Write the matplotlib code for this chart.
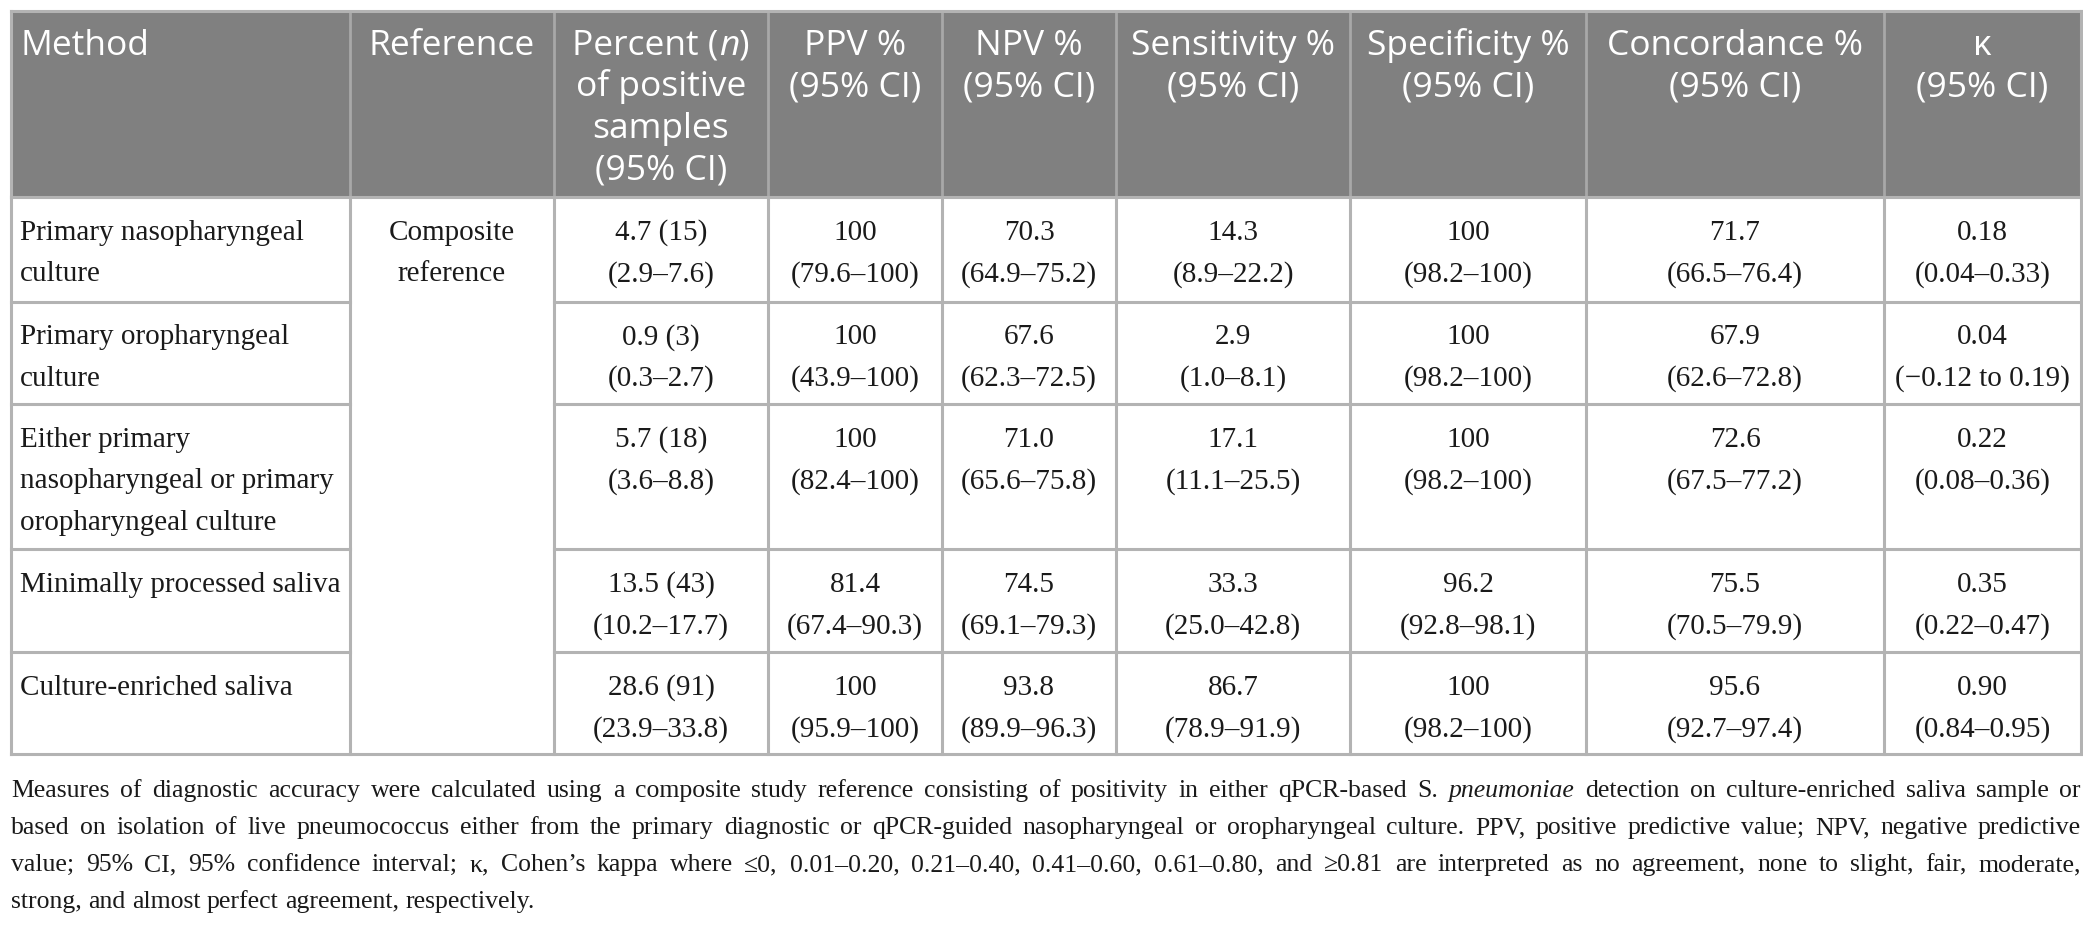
import matplotlib
matplotlib.use("Agg")
import matplotlib.pyplot as plt
from matplotlib.patches import Rectangle

# ---- table content ----
methods = [
    "Primary nasopharyngeal\nculture",
    "Primary oropharyngeal\nculture",
    "Either primary\nnasopharyngeal or primary\noropharyngeal culture",
    "Minimally processed saliva",
    "Culture-enriched saliva",
]
reference = "Composite\nreference"

pos_pct = [4.7, 0.9, 5.7, 13.5, 28.6]
pos_n = [15, 3, 18, 43, 91]
pos_ci = [(2.9, 7.6), (0.3, 2.7), (3.6, 8.8), (10.2, 17.7), (23.9, 33.8)]

ppv = [100, 100, 100, 81.4, 100]
ppv_ci = [(79.6, 100), (43.9, 100), (82.4, 100), (67.4, 90.3), (95.9, 100)]

npv = [70.3, 67.6, 71.0, 74.5, 93.8]
npv_ci = [(64.9, 75.2), (62.3, 72.5), (65.6, 75.8), (69.1, 79.3), (89.9, 96.3)]

sens = [14.3, 2.9, 17.1, 33.3, 86.7]
sens_ci = [(8.9, 22.2), (1.0, 8.1), (11.1, 25.5), (25.0, 42.8), (78.9, 91.9)]

spec = [100, 100, 100, 96.2, 100]
spec_ci = [(98.2, 100), (98.2, 100), (98.2, 100), (92.8, 98.1), (98.2, 100)]

conc = [71.7, 67.9, 72.6, 75.5, 95.6]
conc_ci = [(66.5, 76.4), (62.6, 72.8), (67.5, 77.2), (70.5, 79.9), (92.7, 97.4)]

kappa = [0.18, 0.04, 0.22, 0.35, 0.90]
kappa_ci = [(0.04, 0.33), (-0.12, 0.19), (0.08, 0.36), (0.22, 0.47), (0.84, 0.95)]

# header text, *...* marks italic
headers = [
    ["Method"],
    ["Reference"],
    ["Percent (*n*)", "of positive", "samples", "(95% CI)"],
    ["PPV %", "(95% CI)"],
    ["NPV %", "(95% CI)"],
    ["Sensitivity %", "(95% CI)"],
    ["Specificity %", "(95% CI)"],
    ["Concordance %", "(95% CI)"],
    ["\u03ba", "(95% CI)"],
]

footnote = [
    "Measures of diagnostic accuracy were calculated using a composite study reference consisting of "
    "positivity in either qPCR-based S. *pneumoniae* detection on culture-enriched saliva sample or",
    "based on isolation of live pneumococcus either from the primary diagnostic or qPCR-guided "
    "nasopharyngeal or oropharyngeal culture. PPV, positive predictive value; NPV, negative predictive",
    "value; 95% CI, 95% confidence interval; \u03ba, Cohen\u2019s kappa where \u22640, 0.01\u20130.20, "
    "0.21\u20130.40, 0.41\u20130.60, 0.61\u20130.80, and \u22650.81 are interpreted as no agreement, "
    "none to slight, fair, moderate,",
    "strong, and almost perfect agreement, respectively.",
]

# ---- layout (pixels) ----
W, H = 2083, 928
col_edges = [11, 350, 554, 768, 942, 1116, 1350, 1586, 1884, 2081]
row_edges = [12, 198, 302.5, 405, 550, 653, 755]
line_gap = 41.5
foot_top = 797
foot_gap = 37
header_bg = "#808080"
grid_col = "#b3b3b3"
text_col = "#1a1a1a"
sans = ["Open Sans", "DejaVu Sans"]
serif = ["Liberation Serif", "DejaVu Serif"]
head_size = 25.5
body_size = 21
foot_size = 18.5


def fmt_pct(v):
    return "100" if v == 100 else f"{v:.1f}"


def fmt_ci(ci, f):
    lo, hi = ci
    if lo < 0:
        return f"(\u2212{f(-lo)} to {f(hi)})"
    return f"({f(lo)}\u2013{f(hi)})"


def fmt_k(v):
    return f"{v:.2f}"


fig = plt.figure(figsize=(W / 100, H / 100), dpi=100)
ax = fig.add_axes([0, 0, 1, 1])
ax.set_xlim(0, W)
ax.set_ylim(H, 0)
ax.axis("off")
renderer = fig.canvas.get_renderer()


def text_width(s, **kw):
    t = ax.text(0, 0, s, **kw)
    w = t.get_window_extent(renderer).width
    t.remove()
    return w


def parse_runs(s):
    parts = s.split("*")
    return [(p, "italic" if i % 2 else "normal") for i, p in enumerate(parts) if p]


def draw_runs(x, y, s, ha="left", **kw):
    runs = parse_runs(s)
    widths = [text_width(r, style=st, **kw) for r, st in runs]
    total = sum(widths)
    if ha == "center":
        x = x - total / 2
    for (r, st), w in zip(runs, widths):
        ax.text(x, y, r, style=st, ha="left", va="baseline", **kw)
        x += w


# header block
ax.add_patch(Rectangle((col_edges[0], row_edges[0]), col_edges[-1] - col_edges[0],
                       row_edges[1] - row_edges[0], fc=header_bg, ec="none", zorder=0))
for x in col_edges[1:-1]:
    ax.plot([x, x], [row_edges[0], row_edges[1]], color="#a8a8a8", lw=2, zorder=1)

for c, lines in enumerate(headers):
    for k, line in enumerate(lines):
        y = row_edges[0] + 43 + k * line_gap
        if c == 0:
            draw_runs(col_edges[0] + 9, y, line, ha="left", family=sans, size=head_size, color="white")
        else:
            xc = (col_edges[c] + col_edges[c + 1]) / 2
            draw_runs(xc, y, line, ha="center", family=sans, size=head_size, color="white")

# grid
top, bottom = row_edges[1], row_edges[-1]
for x in col_edges:
    ax.plot([x, x], [top, bottom], color=grid_col, lw=2.2, zorder=2)
for i, y in enumerate(row_edges[1:]):
    inner = 0 < i < len(row_edges) - 2
    if inner:
        ax.plot([col_edges[0], col_edges[1]], [y, y], color=grid_col, lw=2.2, zorder=2)
        ax.plot([col_edges[2], col_edges[-1]], [y, y], color=grid_col, lw=2.2, zorder=2)
    else:
        ax.plot([col_edges[0], col_edges[-1]], [y, y], color=grid_col, lw=2.2, zorder=2)
ax.plot([col_edges[0], col_edges[-1]], [row_edges[0], row_edges[0]], color=grid_col, lw=2.2, zorder=2)
for x in (col_edges[0], col_edges[-1]):
    ax.plot([x, x], [row_edges[0], top], color=grid_col, lw=2.2, zorder=2)

# body cells
columns = [
    [f"{p} ({n})" for p, n in zip(pos_pct, pos_n)],
    [fmt_pct(v) for v in ppv],
    [fmt_pct(v) for v in npv],
    [fmt_pct(v) for v in sens],
    [fmt_pct(v) for v in spec],
    [fmt_pct(v) for v in conc],
    [fmt_k(v) for v in kappa],
]
columns_ci = [
    [fmt_ci(ci, fmt_pct) for ci in pos_ci],
    [fmt_ci(ci, fmt_pct) for ci in ppv_ci],
    [fmt_ci(ci, fmt_pct) for ci in npv_ci],
    [fmt_ci(ci, fmt_pct) for ci in sens_ci],
    [fmt_ci(ci, fmt_pct) for ci in spec_ci],
    [fmt_ci(ci, fmt_pct) for ci in conc_ci],
    [fmt_ci(ci, fmt_k) for ci in kappa_ci],
]

body_kw = dict(family=serif, size=body_size, color=text_col, va="baseline")
for r, name in enumerate(methods):
    y0 = row_edges[r + 1] + 42
    for k, line in enumerate(name.split("\n")):
        ax.text(col_edges[0] + 9, y0 + k * line_gap, line, ha="left", **body_kw)
    for c in range(len(columns)):
        xc = (col_edges[c + 2] + col_edges[c + 3]) / 2
        ax.text(xc, y0, columns[c][r], ha="center", **body_kw)
        ax.text(xc, y0 + line_gap, columns_ci[c][r], ha="center", **body_kw)

xc = (col_edges[1] + col_edges[2]) / 2
for k, line in enumerate(reference.split("\n")):
    ax.text(xc, row_edges[1] + 42 + k * line_gap, line, ha="center", **body_kw)

# footnote, justified
avail = col_edges[-1] - col_edges[0]
foot_kw = dict(family=serif, color=text_col)


def split_words(s):
    words = []
    for r, st in parse_runs(s):
        for w in r.split(" "):
            if w:
                words.append((w, st))
    return words


def space_width(size):
    return text_width("a a", size=size, **foot_kw) - text_width("aa", size=size, **foot_kw)


# shrink the footnote font until the longest line fits the table width
natural = []
sw = space_width(foot_size)
for line in footnote:
    ws = split_words(line)
    natural.append(sum(text_width(w, style=st, size=foot_size, **foot_kw) for w, st in ws)
                   + sw * (len(ws) - 1))
if max(natural) > avail:
    foot_size = foot_size * avail / max(natural) * 0.995

for i, line in enumerate(footnote):
    y = foot_top + i * foot_gap
    ws = split_words(line)
    widths = [text_width(w, style=st, size=foot_size, **foot_kw) for w, st in ws]
    if i < len(footnote) - 1 and len(ws) > 1:
        gap = (avail - sum(widths)) / (len(ws) - 1)
    else:
        gap = space_width(foot_size)
    x = col_edges[0]
    for (w, st), wd in zip(ws, widths):
        ax.text(x, y, w, style=st, size=foot_size, ha="left", va="baseline", **foot_kw)
        x += wd + gap

fig.savefig("out.png", dpi=100)
